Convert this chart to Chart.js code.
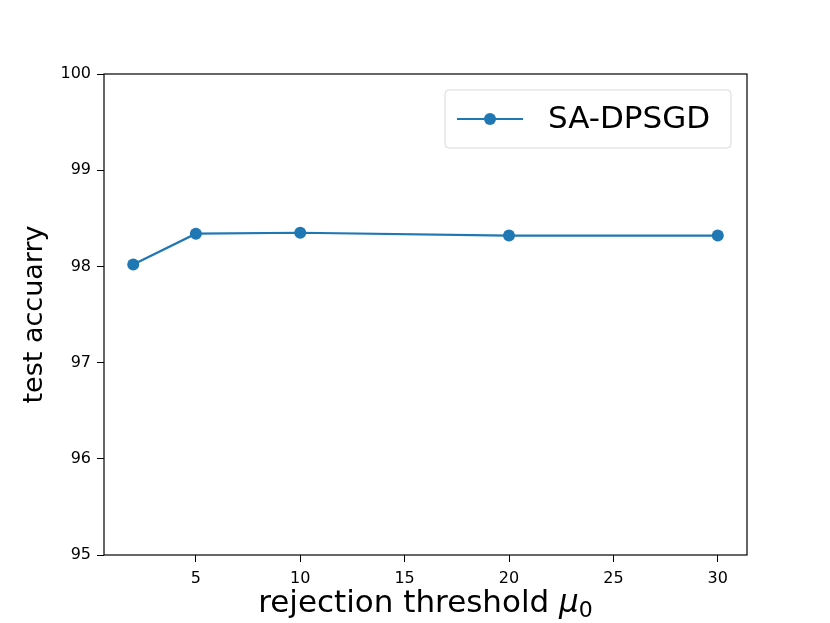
<!DOCTYPE html>
<html lang="en">
<head>
    <meta charset="UTF-8">
    <title>SA-DPSGD test accuracy</title>
    <script src="https://cdn.jsdelivr.net/npm/chart.js"></script>
    <style>
        html, body { margin: 0; padding: 0; background: #fff; }
        #wrap { width: 830px; height: 623px; }
    </style>
</head>
<body>
    <div id="wrap"><canvas id="myChart" width="830" height="623"></canvas></div>

    <script>
        // values
        const thresholds = [2, 5, 10, 20, 30];
        const accuracy = [98.02, 98.34, 98.35, 98.32, 98.32];
        const xTicks = [5, 10, 15, 20, 25, 30];
        const yTicks = [95, 96, 97, 98, 99, 100];
        const seriesName = 'SA-DPSGD';

        const blue = '#1f77b4';
        const font = 'DejaVu Sans';

        // full box + legend inside the plot, matplotlib style
        const boxAndLegend = {
            id: 'boxAndLegend',
            afterDraw(chart) {
                const { ctx, chartArea: a } = chart;
                ctx.save();
                ctx.strokeStyle = '#000';
                ctx.lineWidth = 1.2;
                ctx.strokeRect(a.left, a.top, a.right - a.left, a.bottom - a.top);

                // legend
                const bx = 445, by = 90, bw = 286, bh = 58;
                ctx.beginPath();
                ctx.roundRect(bx, by, bw, bh, 4);
                ctx.fillStyle = 'rgba(255,255,255,0.8)';
                ctx.fill();
                ctx.strokeStyle = '#d9d9d9';
                ctx.lineWidth = 1;
                ctx.stroke();

                const ly = by + bh / 2;
                ctx.strokeStyle = blue;
                ctx.lineWidth = 2.2;
                ctx.beginPath();
                ctx.moveTo(457, ly);
                ctx.lineTo(523, ly);
                ctx.stroke();
                ctx.fillStyle = blue;
                ctx.beginPath();
                ctx.arc(490, ly, 6, 0, Math.PI * 2);
                ctx.fill();

                ctx.fillStyle = '#000';
                ctx.font = '31px "' + font + '"';
                ctx.textBaseline = 'middle';
                ctx.fillText(chart.data.datasets[0].label, 548, ly + 1);

                // x axis title with italic mu and subscript
                const y = 612;
                ctx.textBaseline = 'alphabetic';
                const part1 = 'rejection threshold ';
                ctx.font = '31px "' + font + '"';
                const w1 = ctx.measureText(part1).width;
                ctx.font = 'italic 31px "' + font + '"';
                const w2 = ctx.measureText('μ').width;
                ctx.font = '22px "' + font + '"';
                const w3 = ctx.measureText('0').width;
                const total = w1 + w2 + w3;
                let x = (a.left + a.right) / 2 - total / 2;
                ctx.textAlign = 'left';
                ctx.font = '31px "' + font + '"';
                ctx.fillText(part1, x, y);
                x += w1;
                ctx.font = 'italic 31px "' + font + '"';
                ctx.fillText('μ', x, y);
                x += w2;
                ctx.font = '22px "' + font + '"';
                ctx.fillText('0', x, y + 5);
                ctx.restore();
            }
        };

        const ctx = document.getElementById('myChart').getContext('2d');
        new Chart(ctx, {
            type: 'line',
            data: {
                datasets: [{
                    label: seriesName,
                    data: thresholds.map((t, i) => ({ x: t, y: accuracy[i] })),
                    borderColor: blue,
                    backgroundColor: blue,
                    borderWidth: 2.2,
                    pointRadius: 6,
                    pointHoverRadius: 6,
                    pointBorderWidth: 0,
                    fill: false,
                    tension: 0
                }]
            },
            options: {
                responsive: false,
                animation: false,
                devicePixelRatio: 1,
                layout: { padding: { top: 74, right: 83, left: 0, bottom: 0 } },
                plugins: {
                    legend: { display: false },
                    tooltip: { enabled: false }
                },
                scales: {
                    x: {
                        type: 'linear',
                        min: 0.6,
                        max: 31.4,
                        afterBuildTicks: s => { s.ticks = xTicks.map(v => ({ value: v })); },
                        afterFit: s => { s.height = 68; },
                        grid: { drawOnChartArea: false, drawTicks: true, tickLength: 7, color: '#000', tickWidth: 1 },
                        border: { display: false },
                        ticks: { color: '#000', font: { family: font, size: 16 }, padding: 7, maxRotation: 0 }
                    },
                    y: {
                        min: 95,
                        max: 100,
                        afterBuildTicks: s => { s.ticks = yTicks.map(v => ({ value: v })); },
                        afterFit: s => { s.width = 104; },
                        grid: { drawOnChartArea: false, drawTicks: true, tickLength: 7, color: '#000', tickWidth: 1 },
                        border: { display: false },
                        ticks: { color: '#000', font: { family: font, size: 16 }, padding: 6 },
                        title: {
                            display: true,
                            text: 'test accuarry',
                            color: '#000',
                            font: { family: font, size: 27 },
                            padding: { top: 19, bottom: 0 }
                        }
                    }
                }
            },
            plugins: [boxAndLegend]
        });
    </script>
</body>
</html>
